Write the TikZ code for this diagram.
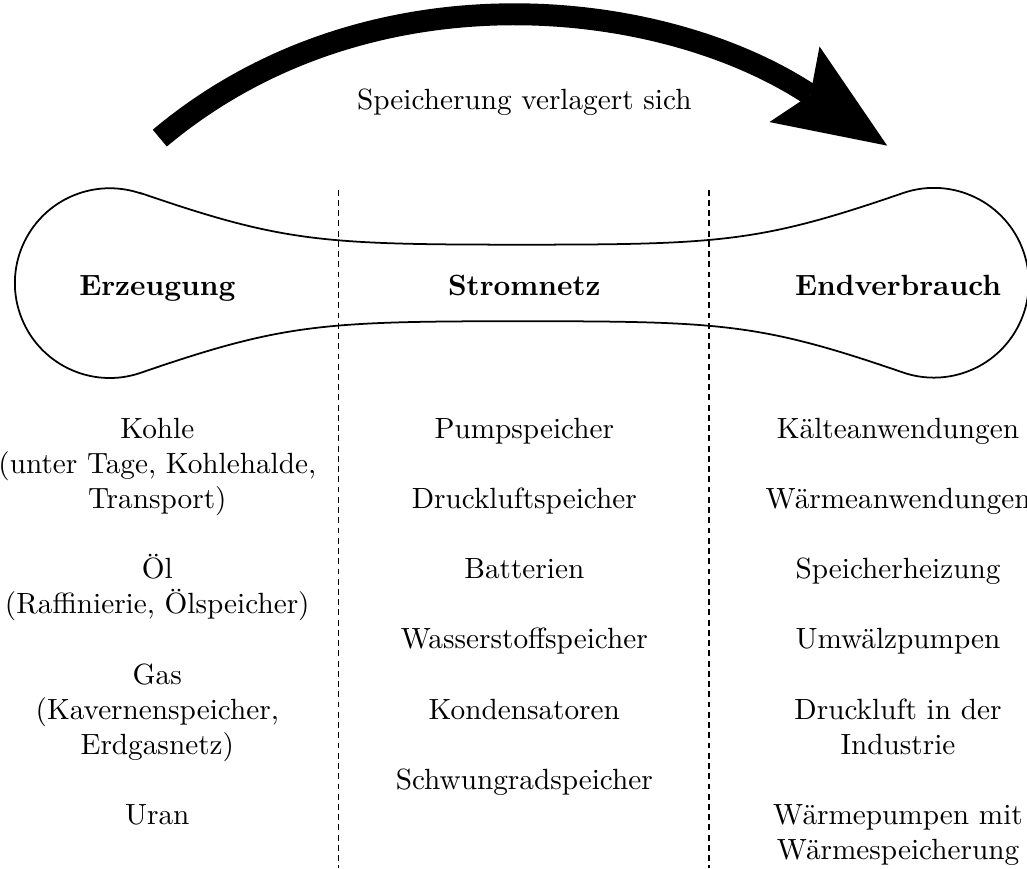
\documentclass[tikz,border=0pt]{standalone}
\usepackage{fontspec}
\usepackage{tikz}
\usetikzlibrary{arrows.meta}

\begin{document}
\begin{tikzpicture}[
            bone/.style={draw, semithick, black},
            divider/.style={draw, thin, black, dash pattern=on 2pt off 1.5pt},
            bigarrow/.style={draw, black, line width=7.5pt, -{Stealth[length=38pt, width=31pt, inset=6.5pt, line width=0pt]}},
            headline/.style={anchor=base, font=\bfseries},
            itemlist/.style={anchor=north, align=center, inner sep=0pt}
        ]
            \useasboundingbox (0,0) rectangle (12.34,10.43);

            % Arrow: storage moves towards consumption
            \coordinate (from) at (1.92,8.77);
            \coordinate (to) at (10.66,8.68);
            \draw [bigarrow] (from) to[out=40, in=146.5, looseness=0.95] (to);
            \node (shifttext) at (6.30,9.11) [anchor=base] {Speicherung verlagert sich};

            % Bone shape
            \coordinate (ltop) at (1.69,8.11);
            \coordinate (lbot) at (1.69,5.95);
            \coordinate (rtop) at (10.85,8.11);
            \coordinate (rbot) at (10.85,5.95);
            \draw [bone] (ltop) to[out=-19, in=180, in looseness=1.33] (6.27,7.49)
                to[out=0, in=199, out looseness=1.33] (rtop)
                arc[start angle=109, end angle=-109, radius=1.14]
                to[out=161, in=0, in looseness=1.33] (6.27,6.57)
                to[out=180, in=19, out looseness=1.33] (lbot)
                arc[start angle=-71, end angle=-289, radius=1.14] -- cycle;

            % Dividers
            \draw [divider] (4.07,8.15) -- (4.07,0);
            \draw [divider] (8.52,8.15) -- (8.52,0);

            % Headlines
            \node (gen) at (1.89,6.885) [headline] {Erzeugung};
            \node (grid) at (6.30,6.885) [headline] {Stromnetz};
            \node (use) at (10.79,6.885) [headline] {Endverbrauch};

            % Storage lists
            \node (genlist) at (1.89,5.414) [itemlist] {Kohle\\(unter Tage, Kohlehalde,\\Transport)\\[12pt]Öl\\(Raffinierie, Ölspeicher)\\[12pt]Gas\\(Kavernenspeicher,\\Erdgasnetz)\\[12pt]Uran};
            \node (gridlist) at (6.30,5.414) [itemlist] {Pumpspeicher\\[12pt]Druckluftspeicher\\[12pt]Batterien\\[12pt]Wasserstoffspeicher\\[12pt]Kondensatoren\\[12pt]Schwungradspeicher};
            \node (uselist) at (10.79,5.414) [itemlist] {Kälteanwendungen\\[12pt]Wärmeanwendungen\\[12pt]Speicherheizung\\[12pt]Umwälzpumpen\\[12pt]Druckluft in der\\Industrie\\[12pt]Wärmepumpen mit\\Wärmespeicherung};
        \end{tikzpicture}
\end{document}
